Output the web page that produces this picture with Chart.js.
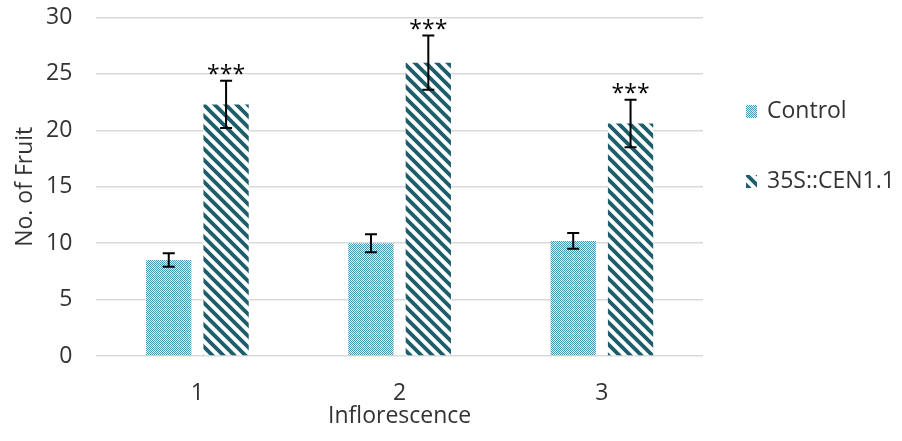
<!DOCTYPE html>
<html>
<head>
<meta charset="utf-8">
<script src="https://cdn.jsdelivr.net/npm/chart.js@4"></script>
<style>
  html, body { margin: 0; padding: 0; background: #fff; }
  #wrap { width: 902px; height: 441px; position: relative; }
</style>
</head>
<body>
<div id="wrap"><canvas id="fruitChart" width="902" height="441"></canvas></div>
<script>
// data
var categories = ['1', '2', '3'];
var seriesNames = ['Control', '35S::CEN1.1'];
var controlValues = [8.5, 10.0, 10.2];
var controlErrors = [0.6, 0.8, 0.7];
var cenValues = [22.3, 26.0, 20.6];
var cenErrors = [2.1, 2.4, 2.1];
var cenMarks = ['***', '***', '***'];

var FONT = '"Open Sans", sans-serif';
var TEXT = '#333333';

// Control fill: fine teal checker with white dots
function dotPattern() {
    var c = document.createElement('canvas');
    c.width = 6; c.height = 6;
    var g = c.getContext('2d');
    g.fillStyle = '#d6eaf0';
    g.fillRect(0, 0, 6, 6);
    g.fillStyle = '#4598ad';
    for (var y = 0; y < 6; y++) {
        for (var x = 0; x < 6; x++) {
            if ((x + y) % 2 == 0) g.fillRect(x, y, 1, 1);
        }
    }
    g.fillStyle = '#ffffff';
    g.fillRect(3, 2, 1, 1);
    g.fillRect(2, 3, 1, 1);
    g.fillRect(4, 3, 1, 1);
    g.fillRect(3, 4, 1, 1);
    return g.createPattern(c, 'repeat');
}

// 35S::CEN1.1 fill: dark teal diagonal stripes "\"
function stripePattern() {
    var s = 11;
    var c = document.createElement('canvas');
    c.width = s; c.height = s;
    var g = c.getContext('2d');
    g.fillStyle = '#ffffff';
    g.fillRect(0, 0, s, s);
    g.strokeStyle = '#1d5e6b';
    g.lineWidth = 3.8;
    g.beginPath();
    g.moveTo(-s, 0); g.lineTo(s, 2 * s);
    g.moveTo(0, 0); g.lineTo(s, s);
    g.moveTo(0, -s); g.lineTo(2 * s, s);
    g.stroke();
    return g.createPattern(c, 'repeat');
}

var fills = [dotPattern(), stripePattern()];

// error bars + significance stars
var errorBarPlugin = {
    id: 'errorBars',
    afterDatasetsDraw: function (chart) {
        var ctx = chart.ctx;
        var y = chart.scales.y;
        var errs = [controlErrors, cenErrors];
        ctx.save();
        ctx.strokeStyle = '#000';
        ctx.lineWidth = 2;
        chart.data.datasets.forEach(function (ds, di) {
            var meta = chart.getDatasetMeta(di);
            meta.data.forEach(function (bar, i) {
                var v = ds.data[i];
                var top = y.getPixelForValue(v + errs[di][i]);
                var bot = y.getPixelForValue(v - errs[di][i]);
                var x = bar.x;
                ctx.beginPath();
                ctx.moveTo(x, top); ctx.lineTo(x, bot);
                ctx.moveTo(x - 6, top); ctx.lineTo(x + 6, top);
                ctx.moveTo(x - 6, bot); ctx.lineTo(x + 6, bot);
                ctx.stroke();
                if (di == 1) {
                    ctx.fillStyle = '#000';
                    ctx.font = '23px ' + FONT;
                    ctx.textAlign = 'center';
                    ctx.textBaseline = 'alphabetic';
                    ctx.fillText(cenMarks[i], x, top + 1);
                }
            });
        });
        ctx.restore();
    }
};

// legend on the right
var legendPlugin = {
    id: 'sideLegend',
    afterDraw: function (chart) {
        var ctx = chart.ctx;
        var rows = [111, 181];
        ctx.save();
        ctx.font = '23px ' + FONT;
        ctx.textBaseline = 'middle';
        ctx.textAlign = 'left';
        seriesNames.forEach(function (name, i) {
            ctx.fillStyle = fills[i];
            ctx.fillRect(746, rows[i] - 6, 11, 13);
            ctx.fillStyle = TEXT;
            ctx.fillText(name, 767, rows[i]);
        });
        ctx.restore();
    }
};

new Chart(document.getElementById('fruitChart'), {
    type: 'bar',
    data: {
        labels: categories,
        datasets: [
            { label: seriesNames[0], data: controlValues, backgroundColor: fills[0] },
            { label: seriesNames[1], data: cenValues, backgroundColor: fills[1] }
        ]
    },
    options: {
        responsive: false,
        animation: false,
        events: [],
        layout: { padding: { top: 0, right: 199, left: 14, bottom: 13 } },
        datasets: { bar: { categoryPercentage: 0.567, barPercentage: 0.79 } },
        plugins: { legend: { display: false }, tooltip: { enabled: false } },
        scales: {
            x: {
                grid: { display: false, drawTicks: false },
                border: { display: false },
                ticks: { color: TEXT, font: { family: FONT, size: 23, lineHeight: 1 }, padding: 26 },
                title: { display: true, text: 'Inflorescence', color: TEXT, font: { family: FONT, size: 23, lineHeight: 1 }, padding: { top: -26, bottom: 0 } }
            },
            y: {
                min: 0, max: 30,
                ticks: { stepSize: 5, color: TEXT, font: { family: FONT, size: 23, lineHeight: 1 }, padding: 6 },
                grid: { color: '#d9d9d9', lineWidth: 1.5, drawTicks: true, tickLength: 18, tickColor: 'rgba(0,0,0,0)' },
                border: { display: false },
                title: { display: true, text: 'No. of Fruit', color: TEXT, font: { family: FONT, size: 23, lineHeight: 1 }, padding: { top: 0, bottom: 3 } }
            }
        }
    },
    plugins: [errorBarPlugin, legendPlugin]
});
</script>
</body>
</html>
